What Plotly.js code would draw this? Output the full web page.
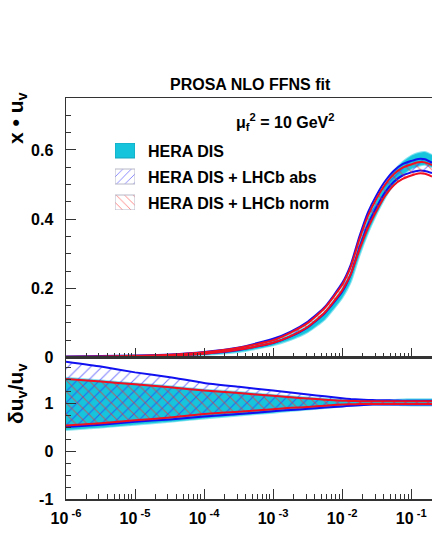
<!DOCTYPE html>
<html>
<head>
<meta charset="utf-8">
<script src="https://cdn.plot.ly/plotly-3.0.1.min.js"></script>
<style>
html, body { margin:0; padding:0; background:#fff; }
#fig { width:432px; height:559px; }
</style>
</head>
<body>
<div id="fig"></div>
<script>
// x values
var xs = [1e-6, 3.2e-6, 1e-5, 3.2e-5, 1e-4, 3.2e-4, 1e-3, 1.8e-3, 3.2e-3, 5.6e-3, 1e-2, 1.33e-2,
          1.78e-2, 2.37e-2, 3.16e-2, 4.2e-2, 5.6e-2, 7.5e-2, 0.1, 0.126, 0.158, 0.2];

// x*u_v bands (upper panel)
var hera_lo = [0.0005, 0.001, 0.0015, 0.003, 0.007, 0.016, 0.035, 0.051, 0.074, 0.11, 0.172, 0.218,
               0.295, 0.36, 0.415, 0.462, 0.5, 0.528, 0.545, 0.553, 0.557, 0.55];
var hera_hi = [0.0025, 0.003, 0.0045, 0.007, 0.013, 0.025, 0.047, 0.066, 0.092, 0.132, 0.198, 0.248,
               0.33, 0.4, 0.455, 0.5, 0.538, 0.565, 0.583, 0.591, 0.594, 0.585];
var abs_lo  = [0.001, 0.0015, 0.0025, 0.005, 0.011, 0.022, 0.042, 0.061, 0.088, 0.128, 0.19, 0.24,
               0.318, 0.385, 0.435, 0.478, 0.508, 0.526, 0.535, 0.54, 0.539, 0.533];
var abs_hi  = [0.003, 0.004, 0.006, 0.009, 0.016, 0.029, 0.054, 0.075, 0.104, 0.146, 0.215, 0.268,
               0.35, 0.42, 0.47, 0.51, 0.54, 0.559, 0.568, 0.574, 0.573, 0.563];
var norm_lo = [0.001, 0.0015, 0.0025, 0.005, 0.011, 0.023, 0.0425, 0.062, 0.089, 0.13, 0.194, 0.24,
               0.312, 0.375, 0.425, 0.468, 0.498, 0.516, 0.526, 0.532, 0.531, 0.523];
var norm_hi = [0.002, 0.003, 0.005, 0.008, 0.015, 0.028, 0.05, 0.072, 0.1, 0.143, 0.21, 0.262,
               0.342, 0.41, 0.46, 0.5, 0.53, 0.549, 0.558, 0.564, 0.564, 0.556];

// relative uncertainty (lower panel)
var hera_rlo = [0.44, 0.49, 0.55, 0.61, 0.68, 0.74, 0.80, 0.835, 0.865, 0.895, 0.93, 0.945,
                0.955, 0.965, 0.97, 0.965, 0.96, 0.955, 0.95, 0.95, 0.95, 0.95];
var hera_rhi = [1.53, 1.47, 1.41, 1.35, 1.28, 1.23, 1.17, 1.14, 1.115, 1.09, 1.07, 1.065,
                1.06, 1.055, 1.05, 1.055, 1.065, 1.075, 1.08, 1.08, 1.08, 1.08];
var abs_rlo  = [0.50, 0.55, 0.61, 0.66, 0.72, 0.77, 0.83, 0.855, 0.88, 0.905, 0.93, 0.945,
                0.955, 0.965, 0.97, 0.97, 0.97, 0.97, 0.97, 0.97, 0.97, 0.97];
var abs_rhi  = [1.86, 1.76, 1.64, 1.54, 1.42, 1.34, 1.26, 1.22, 1.18, 1.14, 1.10, 1.085,
                1.075, 1.065, 1.06, 1.06, 1.055, 1.05, 1.05, 1.05, 1.05, 1.05];
var norm_rlo = [0.53, 0.58, 0.64, 0.70, 0.77, 0.82, 0.87, 0.90, 0.92, 0.945, 0.97, 0.975,
                0.98, 0.98, 0.98, 0.98, 0.98, 0.98, 0.98, 0.98, 0.98, 0.98];
var norm_rhi = [1.50, 1.45, 1.39, 1.33, 1.26, 1.21, 1.15, 1.12, 1.095, 1.07, 1.05, 1.045,
                1.04, 1.04, 1.04, 1.04, 1.04, 1.04, 1.04, 1.04, 1.04, 1.04];

var labels = ['HERA DIS', 'HERA DIS + LHCb abs', 'HERA DIS + LHCb norm'];
var xtickvals = [1e-6, 1e-5, 1e-4, 1e-3, 1e-2, 1e-1];
var xticktext = ['10<sup> -6</sup>', '10<sup> -5</sup>', '10<sup> -4</sup>', '10<sup> -3</sup>', '10<sup> -2</sup>', '10<sup> -1</sup>'];

var CYAN = 'rgb(22,196,220)';
var BLUE = '#1010f0';
var RED = '#f01020';
var FONT = 'Liberation Sans, Arial, sans-serif';

function band(lo, hi, xa, ya, kind) {
  var sh = {shape: 'spline', smoothing: 0.5};
  var tlo = {x: xs, y: lo, xaxis: xa, yaxis: ya, mode: 'lines', type: 'scatter', showlegend: false, hoverinfo: 'none'};
  var thi = {x: xs, y: hi, xaxis: xa, yaxis: ya, mode: 'lines', type: 'scatter', showlegend: false, hoverinfo: 'none', fill: 'tonexty'};
  if (kind == 'hera') {
    tlo.line = Object.assign({color: 'rgba(40,205,228,0.55)', width: 2}, sh);
    thi.line = Object.assign({color: 'rgba(40,205,228,0.55)', width: 2}, sh);
    thi.fillcolor = CYAN;
  } else {
    var c = kind == 'abs' ? BLUE : RED;
    tlo.line = Object.assign({color: c, width: 2}, sh);
    thi.line = Object.assign({color: c, width: 2}, sh);
    thi.fillcolor = 'rgba(0,0,0,0)';
    thi.fillpattern = {shape: kind == 'abs' ? '/' : '\\', size: 8, solidity: 0.14,
                       fgcolor: kind == 'abs' ? 'rgba(40,40,255,0.6)' : 'rgba(255,40,40,0.6)',
                       bgcolor: 'rgba(0,0,0,0)'};
  }
  return [tlo, thi];
}

var data = [].concat(
  band(hera_lo, hera_hi, 'x', 'y', 'hera'),
  band(abs_lo, abs_hi, 'x', 'y', 'abs'),
  band(norm_lo, norm_hi, 'x', 'y', 'norm'),
  band(hera_rlo, hera_rhi, 'x2', 'y2', 'hera'),
  band(abs_rlo, abs_rhi, 'x2', 'y2', 'abs'),
  band(norm_rlo, norm_rhi, 'x2', 'y2', 'norm')
);

// legend glyphs, drawn in a small helper subplot
var boxY = [[0, 15], [26, 41], [52, 67]];
var kinds = ['hera', 'abs', 'norm'];
for (var i = 0; i < 3; i++) {
  var g = {x: [0, 20, 20, 0, 0], y: [boxY[i][0], boxY[i][0], boxY[i][1], boxY[i][1], boxY[i][0]],
           xaxis: 'x3', yaxis: 'y3', mode: 'lines', fill: 'toself', type: 'scatter',
           showlegend: false, hoverinfo: 'none'};
  if (kinds[i] == 'hera') {
    g.fillcolor = CYAN; g.line = {color: 'rgb(20,165,190)', width: 1};
  } else {
    g.fillcolor = 'rgba(0,0,0,0)';
    g.line = {color: '#b8b8c8', width: 1};
    g.fillpattern = {shape: kinds[i] == 'abs' ? '/' : '\\', size: 6, solidity: 0.15,
                     fgcolor: kinds[i] == 'abs' ? 'rgba(40,40,255,0.6)' : 'rgba(255,40,40,0.6)',
                     bgcolor: 'rgba(0,0,0,0)'};
  }
  data.push(g);
}

var L = 66, T = 98, PW = 366, PH = 401;
function px(x) { return (x - L) / PW; }
function py(y) { return 1 - (y - T) / PH; }

var tickfont = {family: FONT, size: 16, color: '#000', weight: 700};
var minorX = [];
for (var e = -6; e < 0; e++) for (var k = 2; k <= 9; k++) minorX.push(k * Math.pow(10, e));

var split = py(357.5);

var xbase = {
  type: 'log', range: [-6, Math.log10(0.2)], showgrid: false, zeroline: false,
  showline: true, linecolor: '#333', linewidth: 1.5, mirror: true,
  ticks: 'inside', ticklen: 10, tickwidth: 1, tickcolor: '#333',
  tickmode: 'array', tickvals: xtickvals, ticktext: xticktext,
  minor: {tickmode: 'array', tickvals: minorX, ticks: 'inside', ticklen: 5, tickwidth: 1, tickcolor: '#333', showgrid: false},
  tickfont: tickfont, fixedrange: true
};

var layout = {
  width: 432, height: 559,
  margin: {l: L, r: 0, t: T, b: 559 - T - PH},
  paper_bgcolor: '#fff', plot_bgcolor: 'rgba(0,0,0,0)',
  showlegend: false,
  xaxis: Object.assign({}, xbase, {anchor: 'y', showticklabels: false}),
  xaxis2: Object.assign({}, xbase, {anchor: 'y2', showticklabels: true, ticklabelstandoff: 4}),
  yaxis: {
    domain: [split, 1], range: [0, 0.75], showgrid: false, zeroline: false,
    showline: true, linecolor: '#333', linewidth: 1.5,
    ticks: 'inside', ticklen: 10, tickcolor: '#333',
    tickmode: 'array', tickvals: [0, 0.2, 0.4, 0.6], ticktext: ['0', '0.2', '0.4', '0.6'],
    minor: {dtick: 0.05, ticks: 'inside', ticklen: 5, tickcolor: '#333'},
    tickfont: tickfont, ticklabelstandoff: 8, fixedrange: true
  },
  yaxis2: {
    domain: [0, split], range: [-1, 1.95], showgrid: false, zeroline: false,
    showline: true, linecolor: '#333', linewidth: 1.5,
    ticks: 'inside', ticklen: 10, tickcolor: '#333',
    tickmode: 'array', tickvals: [-1, 0, 1], ticktext: ['-1', '0', '1'],
    minor: {dtick: 0.25, tick0: 0, ticks: 'inside', ticklen: 5, tickcolor: '#333'},
    tickfont: tickfont, ticklabelstandoff: 8, fixedrange: true
  },
  xaxis3: {domain: [px(115), px(135)], range: [0, 20], visible: false, anchor: 'y3', fixedrange: true},
  yaxis3: {domain: [py(210), py(143)], range: [67, 0], visible: false, anchor: 'x3', fixedrange: true},
  annotations: [
    {xref: 'paper', yref: 'paper', x: px(250), y: py(85), text: 'PROSA NLO FFNS fit', showarrow: false,
     xanchor: 'center', yanchor: 'middle', font: {family: FONT, size: 16, weight: 700, color: '#000'}},
    {xref: 'paper', yref: 'paper', x: px(285), y: py(122), text: 'μ<sub>f</sub><sup>2</sup> = 10 GeV<sup>2</sup>', showarrow: false,
     xanchor: 'center', yanchor: 'middle', font: {family: FONT, size: 16, weight: 700, color: '#000'}},
    {xref: 'paper', yref: 'paper', x: px(17), y: py(117), text: 'x • u<sub>v</sub>', textangle: -90, showarrow: false,
     xanchor: 'center', yanchor: 'middle', font: {family: FONT, size: 21, weight: 700, color: '#000'}},
    {xref: 'paper', yref: 'paper', x: px(17), y: py(393), text: 'δu<sub>v</sub>/u<sub>v</sub>', textangle: -90, showarrow: false,
     xanchor: 'center', yanchor: 'middle', font: {family: FONT, size: 21, weight: 700, color: '#000'}}
  ]
};

var legY = [151, 177, 203];
for (var j = 0; j < labels.length; j++) {
  layout.annotations.push({xref: 'paper', yref: 'paper', x: px(146), y: py(legY[j]), text: labels[j],
    showarrow: false, xanchor: 'left', yanchor: 'middle', font: {family: FONT, size: 16, weight: 700, color: '#000'}});
}

Plotly.newPlot('fig', data, layout, {displayModeBar: false, staticPlot: true});
</script>
</body>
</html>
